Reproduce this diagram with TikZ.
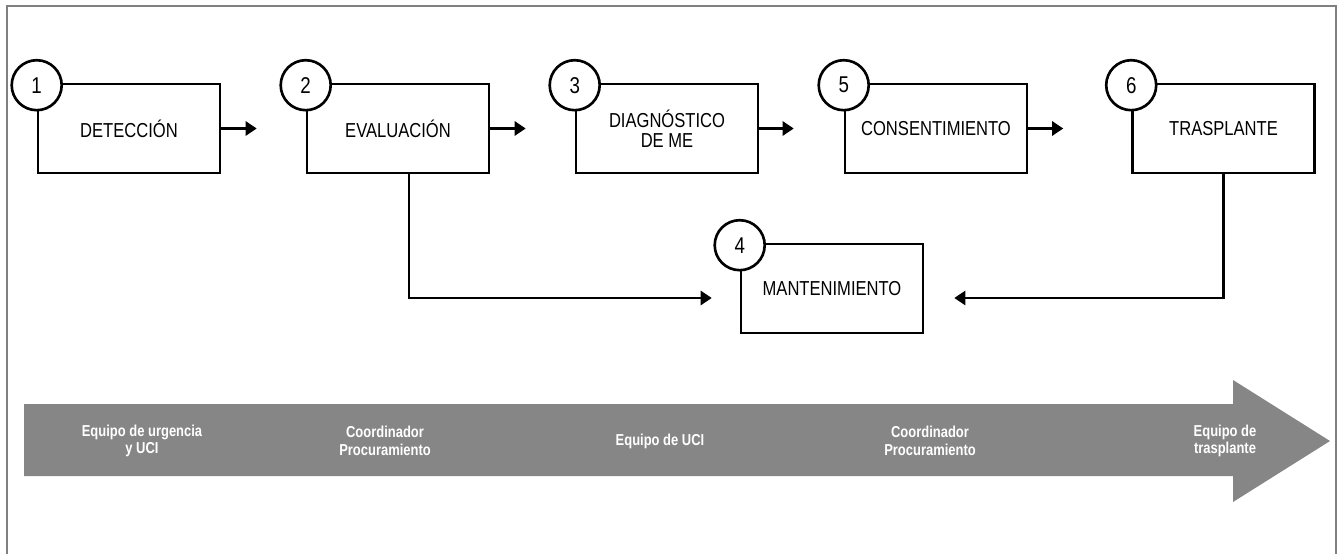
\documentclass[tikz,border=0pt]{standalone}
\usepackage{fontspec}
\setmainfont{Liberation Sans}[FakeStretch=0.82]
\usepackage{xcolor}
\usetikzlibrary{arrows.meta, positioning, calc}

\definecolor{bandgray}{RGB}{134,134,134}

\begin{document}
\begin{tikzpicture}[x=0.02cm, y=-0.02cm,
    stage/.style={rectangle, draw=black, line width=1.5pt, fill=white,
                  minimum width=3.64cm, minimum height=1.78cm,
                  font=\fontsize{11.5}{11.5}\selectfont, align=center, inner sep=2pt},
    num/.style={circle, draw=black, line width=1.5pt, fill=white,
                minimum size=1cm, inner sep=0pt, font=\fontsize{13}{13}\selectfont},
    flow/.style={-{Triangle[length=2.2mm, width=2.8mm]}, line width=1.5pt},
    team/.style={text=white, font=\fontsize{9}{10}\selectfont\bfseries, align=center},
]

\useasboundingbox (0,0) rectangle (1338,554);

% Frame
\draw[gray, line width=0.8pt] (7,554) -- (7,6) -- (1336,6) -- (1336,554);

% Stages (top row)
\node[stage] (detec) at (129,128.5) {DETECCIÓN};
\node[stage] (eval) at (398,128.5) {EVALUACIÓN};
\node[stage] (diag) at (667,128.5) {DIAGNÓSTICO\\DE ME};
\node[stage] (consen) at (936,128.5) {CONSENTIMIENTO};
\node[stage] (trasp) at (1223.5,128.5) {TRASPLANTE};

% Maintenance (lower)
\node[stage] (mant) at (832,288.5) {MANTENIMIENTO};

% Step numbers
\foreach \b/\n in {detec/1, eval/2, diag/3, mant/4, consen/5, trasp/6} {
    \node[num] (n\n) at ([yshift=-0.05cm]\b.north west) {\n};
}

% Flow arrows
\draw[flow, shorten >=0.98cm] (detec) -- (eval);
\draw[flow, shorten >=0.98cm] (eval) -- (diag);
\draw[flow, shorten >=1.0cm] (diag) -- (consen);
\draw[flow, shorten >=1.36cm] (consen) -- (trasp);

% Links to maintenance
\draw[flow, shorten >=0.56cm] ([xshift=0.22cm]eval.south) |- ([yshift=-0.19cm]mant.west);
\draw[flow, shorten >=0.6cm] (trasp.south) |- ([yshift=-0.19cm]mant.east);

% Team band
\fill[bandgray] (24,404) -- (1233,404) -- (1233,380) -- (1330,441)
    -- (1233,502) -- (1233,476) -- (24,476) -- cycle;

\node[team] (t1) at (142,441) {Equipo de urgencia\\y UCI};
\node[team] (t2) at (385,441) {Coordinador\\Procuramiento};
\node[team] (t3) at (660,441) {Equipo de UCI};
\node[team] (t4) at (930,441) {Coordinador\\Procuramiento};
\node[team] (t5) at (1225,441) {Equipo de\\trasplante};

\end{tikzpicture}
\end{document}
